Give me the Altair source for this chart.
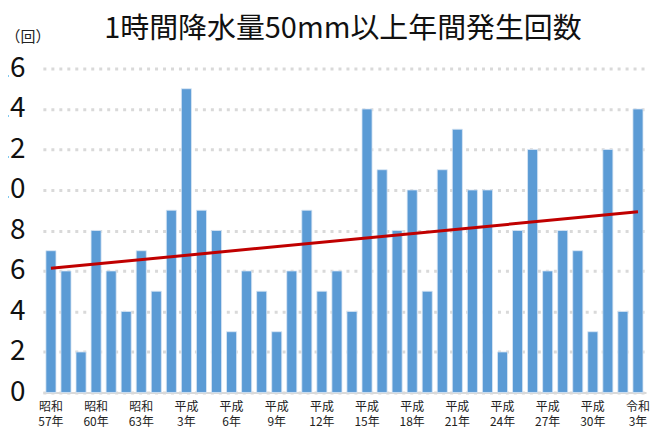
import altair as alt
import pandas as pd

title_text = "1時間降水量50mm以上年間発生回数"
years = list(range(1982, 2022))
counts = [7, 6, 2, 8, 6, 4, 7, 5, 9, 15,
          9, 8, 3, 6, 5, 3, 6, 9, 5, 6,
          4, 14, 11, 8, 10, 5, 11, 13, 10, 10,
          2, 8, 12, 6, 8, 7, 3, 12, 4, 14]
tick_years = [1982, 1985, 1988, 1991, 1994, 1997, 2000, 2003, 2006, 2009, 2012, 2015, 2018, 2021]
tick_era = ["昭和", "昭和", "昭和", "平成", "平成", "平成", "平成", "平成", "平成", "平成", "平成", "平成", "平成", "令和"]
tick_num = ["57年", "60年", "63年", "3年", "6年", "9年", "12年", "15年", "18年", "21年", "24年", "27年", "30年", "3年"]

df = pd.DataFrame({"year": years, "count": counts})

FONT = "Noto Sans CJK JP"

expr = "''"
for y, e, n in zip(reversed(tick_years), reversed(tick_era), reversed(tick_num)):
    expr = f"datum.value == {y} ? ['{e}', '{n}'] : ({expr})"

x_enc = alt.X(
    "year:O",
    scale=alt.Scale(paddingInner=0.33, paddingOuter=0.2),
    axis=alt.Axis(
        title=None, values=tick_years, labelExpr=expr, labelAngle=0,
        labelFont=FONT, labelFontSize=12, labelColor="#222222", labelLineHeight=15,
        labelPadding=9, ticks=False, domain=True, domainColor="#d9d9d9", domainWidth=2,
        labelBaseline="top",
    ),
)

y_scale = alt.Scale(domain=[0, 16])

bars = alt.Chart(df).mark_bar(color="#5B9BD5", stroke="#dbe7f5", strokeWidth=0.8).encode(
    x=x_enc,
    y=alt.Y(
        "count:Q", scale=y_scale,
        axis=alt.Axis(
            title="（回）", titleAngle=0, titleX=-38, titleY=-32, titleAlign="left",
            titleBaseline="middle", titleFont=FONT, titleFontSize=15, titleFontWeight="normal",
            titleColor="#222222",
            values=list(range(0, 17, 2)), labelFont=FONT, labelFontSize=28, labelColor="#111111",
            labelPadding=18, ticks=False, domain=False,
            grid=True, gridColor="#d9d9d9", gridDash=[3, 5], gridWidth=3,
        ),
    ),
)

trend = alt.Chart(df).transform_regression("year", "count", method="linear").mark_line(
    color="#C00000", strokeWidth=3
).encode(
    x=alt.X("year:O"),
    y=alt.Y("count:Q", scale=y_scale),
)

title = alt.Chart(pd.DataFrame({"t": [title_text]})).mark_text(
    font=FONT, fontSize=29, color="#111111", align="center", baseline="alphabetic"
).encode(text="t:N", x=alt.value(301), y=alt.value(-31))

chart = alt.layer(bars, trend, title).properties(
    width=605, height=325,
    autosize=alt.AutoSizeParams(type="none"),
    padding={"left": 35, "top": 60, "right": 5, "bottom": 40},
).configure_view(stroke=None)

chart.save("out.html", embed_options={"renderer": "svg", "actions": False})
